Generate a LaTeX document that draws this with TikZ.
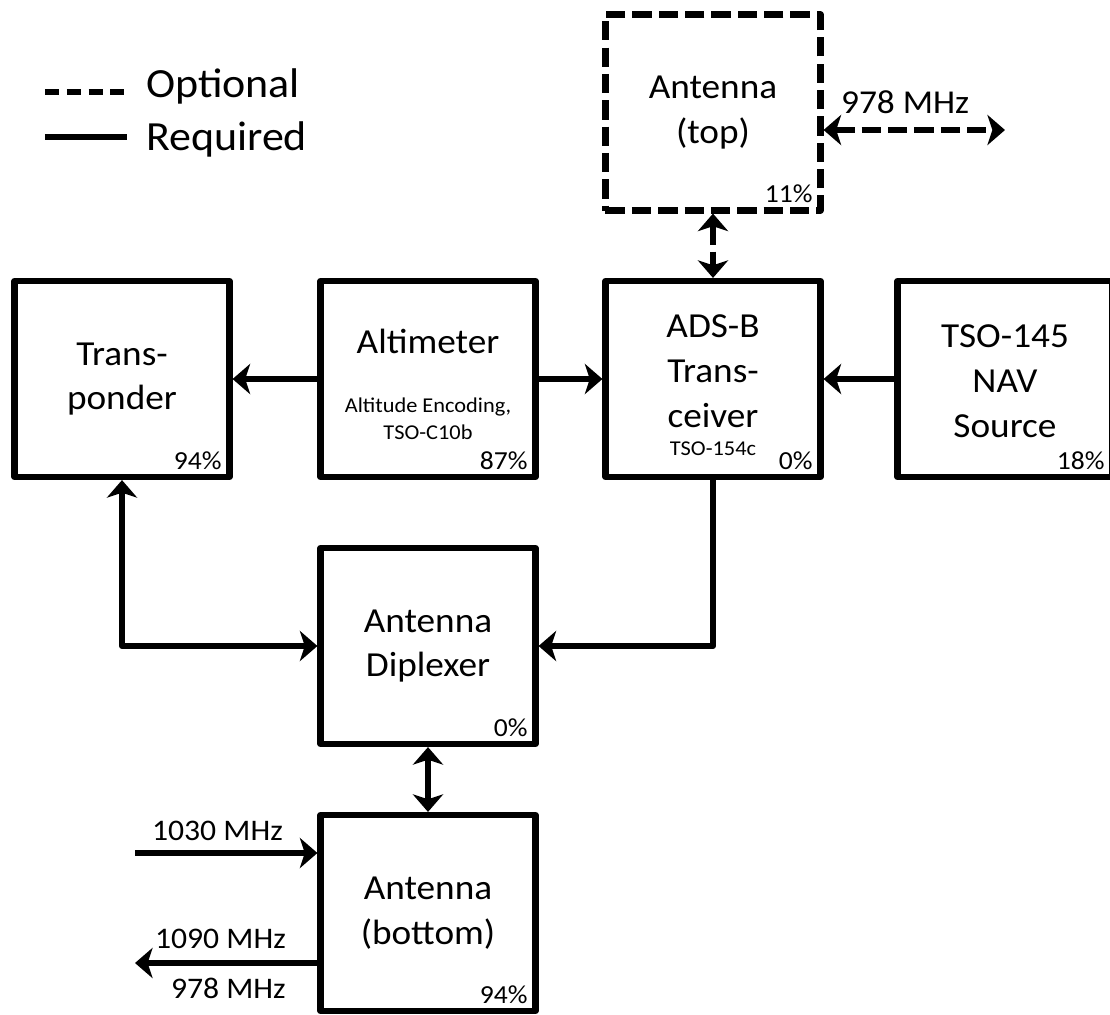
\documentclass[tikz,border=0pt]{standalone}
\usepackage{fontspec}
\setmainfont{Carlito}[FakeStretch=1.06]
\usetikzlibrary{arrows.meta,calc,positioning}
\newcommand\blkfont{\fontsize{10}{12.7}\selectfont}
\newcommand\legfont{\fontsize{11.8}{14}\selectfont}
\newcommand\subfont{\fontsize{6}{7.7}\selectfont}
\newcommand\pctfont{\fontsize{7.4}{8.5}\selectfont}
\tikzset{arr/.style={-{Stealth[length=5pt,width=8.6pt,inset=1.4pt]}},
  dbl/.style={{Stealth[length=5pt,width=8.6pt,inset=1.4pt]}-{Stealth[length=5pt,width=8.6pt,inset=1.4pt]}},
  opt/.style={dash pattern=on 5.5pt off 2pt},
  lbl/.style={inner sep=0pt,font=\fontsize{8.5}{10}\selectfont}}

\begin{document}
\begin{tikzpicture}[line width=1.75pt,line join=round,
  blk/.style={draw,minimum width=2.15cm,minimum height=1.96cm,inner sep=0pt,align=center,font=\blkfont},
  txt/.style={inner sep=0pt,align=center,font=\blkfont},
  sub/.style={inner sep=0pt,align=center,font=\subfont},
  pct/.style={inner sep=0pt,font=\pctfont}]
\useasboundingbox (0,0) rectangle (11.1,-10.15);
\clip (0,0) rectangle (11.1,-10.15);
% legend
\coordinate (optA) at (0.45,-0.92); \coordinate (optB) at (1.27,-0.92);
\coordinate (reqA) at (0.45,-1.37); \coordinate (reqB) at (1.27,-1.37);
\draw[dash pattern=on 4pt off 2.2pt] (optA)--(optB); \draw (reqA)--(reqB);
\node[inner sep=0pt,font=\legfont,anchor=base west] (optT) at (1.43,-0.97){Optional};
\node[inner sep=0pt,font=\legfont,anchor=base west] (reqT) at (1.43,-1.50){Required};
% boxes
\node[blk,opt] (antT) at (7.13,-1.125){Antenna\\(top)};
\node[blk] (trp) at (1.22,-3.79){Trans-\\ponder};
\node[blk] (alt) at (4.28,-3.79){};
\node[blk] (adsb) at (7.13,-3.79){};
\node[blk] (nav) at (10.05,-3.79){};
\node[blk] (dip) at (4.28,-6.46){Antenna\\Diplexer};
\node[blk] (antB) at (4.28,-9.13){Antenna\\(bottom)};
\node[txt,anchor=base] (altT) at (4.28,-3.53){Altimeter};
\node[sub,anchor=north] (altS) at (4.28,-3.95){Altitude Encoding,\\TSO-C10b};
\node[txt,anchor=north] (adsbT) at (7.13,-3.12){ADS-B\\Trans-\\ceiver};
\node[sub,anchor=base] (adsbS) at (7.13,-4.55){TSO-154c};
\node[txt,anchor=north] (navT) at (10.05,-3.22){TSO-145\\NAV\\Source};
\foreach \b/\p in {trp/94,alt/87,adsb/0,nav/18,antT/11,dip/0,antB/94}
  \node[pct,anchor=base east] (p-\b) at ($(\b.south east)+(-0.08,0.11)$){\p\%};
% links
\draw[arr] (alt)--(trp); \draw[arr] (alt)--(adsb); \draw[arr] (nav)--(adsb);
\draw[arr] (adsb.south)|-(dip.east);
\draw[dbl] (trp.south)|-(dip.west);
\draw[dbl] (dip)--(antB);
\draw[dbl,opt] (antT)--(adsb);
\coordinate (topout) at (10.05,-1.30);
\draw[dbl,opt] (antT.east|-topout)--(topout);
\coordinate (in1030) at (1.35,-8.53); \coordinate (out1090) at (1.35,-9.63);
\draw[arr] (in1030)--(antB.west|-in1030);
\draw[arr] (antB.west|-out1090)--(out1090);
\node[lbl,font=\fontsize{9.5}{11}\selectfont,anchor=base west] (f978t) at (8.38,-1.13){978 MHz};
\node[lbl,anchor=base west] (f1030) at (1.49,-8.40){1030 MHz};
\node[lbl,anchor=base west] (f1090) at (1.52,-9.48){1090 MHz};
\node[lbl,anchor=base west] (f978b) at (1.68,-9.98){978 MHz};
\end{tikzpicture}
\end{document}
